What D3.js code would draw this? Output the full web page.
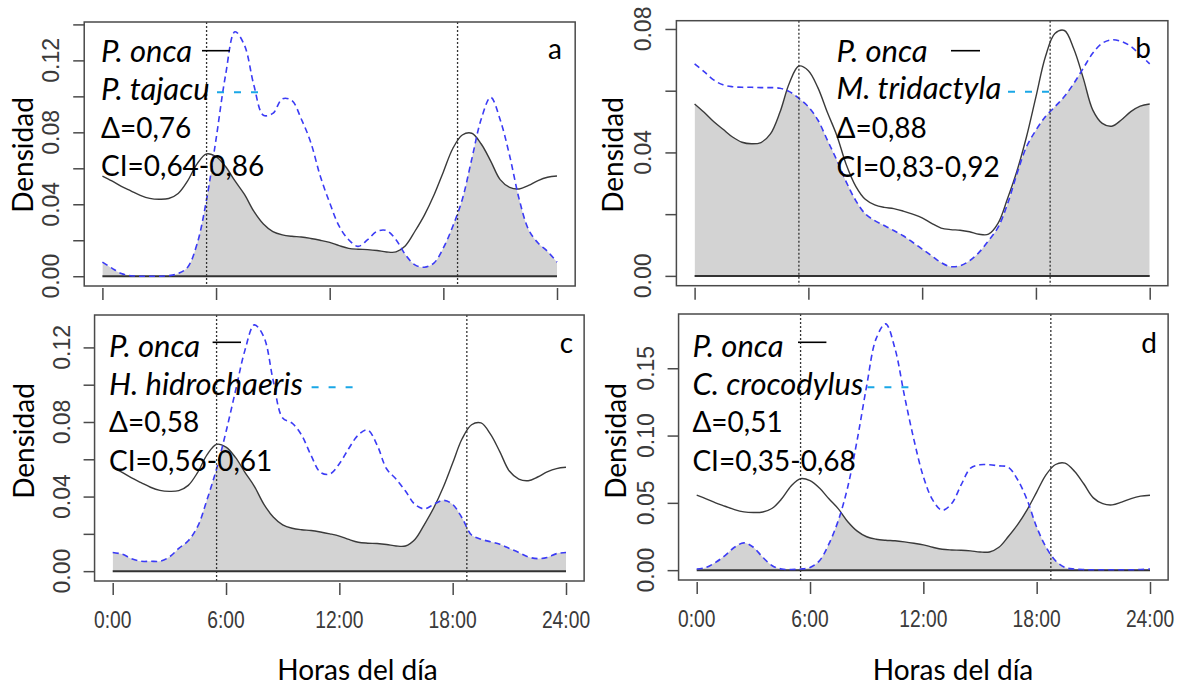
<!DOCTYPE html>
<html>
<head>
<meta charset="utf-8">
<script src="https://cdn.jsdelivr.net/npm/d3@7"></script>
<style>
    body { margin: 0; background: #ffffff; }
    svg text { font-family: Lato, "Open Sans", sans-serif; fill: #000; }
    .tick-label { font-family: "Liberation Sans", Arial, sans-serif; fill: #3a3a3a; }
</style>
</head>
<body>
<svg id="chart" width="1179" height="687"></svg>
<script>

// hours of the day (x values of every density curve)
var hours = [0,0.5,1,1.5,2,2.5,3,3.5,4,4.5,5,5.5,6,6.5,7,7.5,8,8.5,9,9.5,10,10.5,11,11.5,
    12,12.5,13,13.5,14,14.5,15,15.5,16,16.5,17,17.5,18,18.5,19,19.5,20,20.5,21,21.5,22,22.5,23,23.5,24];

// activity density, P. onca (same curve in all four panels)
var pOnca = [0.0557,0.0530,0.0500,0.0475,0.0450,0.0433,0.0428,0.0432,0.0460,0.0530,
    0.0625,0.0680,0.0665,0.0610,0.0530,0.0455,0.0360,0.0290,0.0248,0.0230,
    0.0222,0.0218,0.0210,0.0200,0.0188,0.0170,0.0155,0.0150,0.0148,0.0143,
    0.0135,0.0135,0.0170,0.0250,0.0340,0.0450,0.0580,0.0710,0.0785,0.0795,
    0.0735,0.0640,0.0537,0.0494,0.0485,0.0505,0.0532,0.0550,0.0557];

var pTajacu = [0.0078,0.0045,0.0015,0.0003,0.0000,0.0000,0.0000,0.0003,0.0015,0.0050,
    0.0180,0.0427,0.0762,0.1117,0.1359,0.1284,0.1060,0.0895,0.0905,0.0986,
    0.0977,0.0874,0.0744,0.0557,0.0408,0.0278,0.0203,0.0166,0.0203,0.0250,
    0.0254,0.0203,0.0119,0.0063,0.0050,0.0073,0.0157,0.0278,0.0427,0.0651,
    0.0874,0.0995,0.0870,0.0670,0.0430,0.0259,0.0185,0.0138,0.0078];

var mTridactyla = [0.0687,0.0662,0.0635,0.0619,0.0613,0.0611,0.0611,0.0610,0.0610,0.0608,
    0.0597,0.0575,0.0548,0.0505,0.0440,0.0375,0.0304,0.0244,0.0201,0.0179,
    0.0163,0.0147,0.0130,0.0109,0.0087,0.0065,0.0043,0.0030,0.0033,0.0049,
    0.0076,0.0114,0.0157,0.0233,0.0331,0.0418,0.0472,0.0516,0.0548,0.0581,
    0.0624,0.0673,0.0722,0.0754,0.0765,0.0760,0.0744,0.0716,0.0687];

var hHidrochaeris = [0.0100,0.0091,0.0067,0.0053,0.0053,0.0053,0.0076,0.0122,0.0163,0.0240,
    0.0385,0.0549,0.0748,0.0966,0.1184,0.1321,0.1257,0.1021,0.0821,0.0794,
    0.0730,0.0621,0.0530,0.0521,0.0576,0.0658,0.0730,0.0757,0.0676,0.0549,
    0.0494,0.0430,0.0358,0.0334,0.0358,0.0380,0.0358,0.0285,0.0194,0.0171,
    0.0158,0.0144,0.0122,0.0100,0.0076,0.0067,0.0073,0.0094,0.0100];

var cCrocodylus = [0.0008,0.0020,0.0058,0.0108,0.0170,0.0203,0.0170,0.0095,0.0033,0.0008,
    0.0005,0.0008,0.0020,0.0070,0.0195,0.0370,0.0620,0.0970,0.1370,0.1720,
    0.1830,0.1645,0.1295,0.0970,0.0695,0.0520,0.0445,0.0495,0.0633,0.0758,
    0.0783,0.0783,0.0775,0.0765,0.0670,0.0520,0.0320,0.0170,0.0070,0.0020,
    0.0008,0.0004,0.0003,0.0003,0.0003,0.0003,0.0003,0.0005,0.0008];

var panelLetters = ["a", "b", "c", "d"];
var otherSpecies = ["P. tajacu", "M. tridactyla", "H. hidrochaeris", "C. crocodylus"];
var deltaLabels = ["\u0394=0,76", "\u0394=0,88", "\u0394=0,58", "\u0394=0,51"];
var ciLabels = ["CI=0,64-0,86", "CI=0,83-0,92", "CI=0,56-0,61", "CI=0,35-0,68"];

// sunrise / sunset marks
var sunHours = [5.5, 18.75];

var xTickValues = [0, 6, 12, 18, 24];
var xTickLabels = ["0:00", "6:00", "12:00", "18:00", "24:00"];

var yTicksA = [0, 0.02, 0.04, 0.06, 0.08, 0.10, 0.12, 0.14];
var yLabelsA = [0, 0.04, 0.08, 0.12];
var yTicksB = [0, 0.02, 0.04, 0.06, 0.08];
var yLabelsB = [0, 0.04, 0.08];
var yTicksC = [0, 0.02, 0.04, 0.06, 0.08, 0.10, 0.12];
var yLabelsC = [0, 0.04, 0.08, 0.12];
var yTicksD = [0, 0.05, 0.10, 0.15];
var yLabelsD = [0, 0.05, 0.10, 0.15];

var svg = d3.select("#chart");

// layout of the four pasted panels
var panels = [
    {other: pTajacu, yTicks: yTicksA, yLabels: yLabelsA,
     x0: 102.4, x24: 557, top: 22, bottom: 286,
     yTitleX: 33, yTitleY: 155, legX: 101, legY: [62, 100, 138, 176],
     oncaLine: [202, 230, 50.7], dashLine: [217, 258, 92.3], letter: [555, 59], xLabels: false},
    {other: mTridactyla, yTicks: yTicksB, yLabels: yLabelsB,
     x0: 694.6, x24: 1149.7, top: 20.7, bottom: 285.7,
     yTitleX: 623, yTitleY: 155, legX: 836.5, legY: [62, 99, 138, 177],
     oncaLine: [951, 980, 50.7], dashLine: [1008, 1052, 91.7], letter: [1143, 58], xLabels: false},
    {other: hHidrochaeris, yTicks: yTicksC, yLabels: yLabelsC,
     x0: 112.7, x24: 566, top: 315, bottom: 581,
     yTitleX: 34, yTitleY: 441, legX: 109, legY: [356.7, 395, 432.3, 470.7],
     oncaLine: [212.6, 241, 342.3], dashLine: [311.6, 354, 387.3], letter: [566.4, 353], xLabels: true,
     xTitle: [357.5, 680]},
    {other: cCrocodylus, yTicks: yTicksD, yLabels: yLabelsD,
     x0: 696.7, x24: 1150, top: 314, bottom: 580,
     yTitleX: 626, yTitleY: 441, legX: 692.4, legY: [356.7, 395, 432.3, 470.7],
     oncaLine: [798, 826.4, 342.3], dashLine: [867.4, 910, 387.3], letter: [1149, 353], xLabels: true,
     xTitle: [953, 680]}
];

panels.forEach(function (p, i) {
    drawPanel(p, i);
});

function drawPanel(p, i) {
    var g = svg.append("g").attr("class", "panel-" + panelLetters[i]);

    var x = d3.scaleLinear().domain([0, 24]).range([p.x0, p.x24]);
    var maxY = d3.max(pOnca.concat(p.other));
    var y = d3.scaleLinear().domain([-0.04 * maxY, 1.04 * maxY]).range([p.bottom, p.top]);

    var onca = hours.map(function (h, k) { return {h: h, v: pOnca[k]}; });
    var other = hours.map(function (h, k) { return {h: h, v: p.other[k]}; });

    var curve = d3.curveCatmullRom.alpha(0.5);

    var area = d3.area()
        .x(function (d) { return x(d.h); })
        .y0(y(0))
        .y1(function (d) { return y(Math.max(0, d.v)); })
        .curve(curve);

    var line = d3.line()
        .x(function (d) { return x(d.h); })
        .y(function (d) { return y(d.v); })
        .curve(curve);

    // overlap = area under both curves
    var clipId = "clip-" + panelLetters[i];
    g.append("clipPath")
        .attr("id", clipId)
        .append("path")
        .attr("d", area(onca));

    g.append("path")
        .attr("d", area(other))
        .attr("fill", "#d3d3d3")
        .attr("clip-path", "url(#" + clipId + ")");

    // baseline
    g.append("line")
        .attr("x1", x(0)).attr("x2", x(24))
        .attr("y1", y(0)).attr("y2", y(0))
        .attr("stroke", "#333")
        .attr("stroke-width", 2);

    g.append("path")
        .attr("d", line(onca))
        .attr("fill", "none")
        .attr("stroke", "#3a3a3a")
        .attr("stroke-width", 1.4);

    g.append("path")
        .attr("d", line(other))
        .attr("fill", "none")
        .attr("stroke", "#3b3bf5")
        .attr("stroke-width", 1.6)
        .attr("stroke-dasharray", "6,4");

    // sunrise / sunset
    g.selectAll(".sun")
        .data(sunHours)
        .enter().append("line")
        .attr("class", "sun")
        .attr("x1", function (d) { return x(d); })
        .attr("x2", function (d) { return x(d); })
        .attr("y1", p.top)
        .attr("y2", p.bottom)
        .attr("stroke", "#333")
        .attr("stroke-width", 1.3)
        .attr("stroke-dasharray", "2,2");

    // box
    g.append("rect")
        .attr("x", x(-0.96))
        .attr("y", p.top)
        .attr("width", x(24.96) - x(-0.96))
        .attr("height", p.bottom - p.top)
        .attr("fill", "none")
        .attr("stroke", "#4a4a4a")
        .attr("stroke-width", 1.5);

    // x axis ticks
    var xAxis = g.append("g")
        .attr("transform", "translate(0," + (p.bottom + 2) + ")")
        .call(d3.axisBottom(x).tickValues(xTickValues).tickSize(12).tickFormat(""));
    xAxis.select(".domain").remove();
    xAxis.selectAll(".tick line").attr("stroke", "#4a4a4a").attr("stroke-width", 1.5);

    if (p.xLabels) {
        g.selectAll(".xlab")
            .data(xTickValues)
            .enter().append("text")
            .attr("class", "tick-label")
            .attr("text-anchor", "middle")
            .attr("font-size", 23.5)
            .attr("transform", function (d) {
                return "translate(" + x(d) + "," + (p.bottom + 47) + ") scale(0.82,1)";
            })
            .text(function (d, k) { return xTickLabels[k]; });

        g.append("text")
            .attr("x", p.xTitle[0])
            .attr("y", p.xTitle[1])
            .attr("text-anchor", "middle")
            .attr("font-size", 28)
            .text("Horas del día");
    }

    // y axis ticks
    var left = x(-0.96);
    var yAxis = g.append("g")
        .attr("transform", "translate(" + left + ",0)")
        .call(d3.axisLeft(y).tickValues(p.yTicks).tickSize(11).tickFormat(""));
    yAxis.select(".domain").remove();
    yAxis.selectAll(".tick line").attr("stroke", "#4a4a4a").attr("stroke-width", 1.5);

    g.selectAll(".ylab")
        .data(p.yLabels)
        .enter().append("text")
        .attr("class", "tick-label")
        .attr("text-anchor", "middle")
        .attr("font-size", 23)
        .attr("transform", function (d) {
            return "translate(" + (left - 25) + "," + y(d) + ") rotate(-90)";
        })
        .text(function (d) { return d3.format(".2f")(d); });

    g.append("text")
        .attr("text-anchor", "middle")
        .attr("font-size", 28)
        .attr("transform", "translate(" + p.yTitleX + "," + p.yTitleY + ") rotate(-90)")
        .text("Densidad");

    // legend
    g.append("text")
        .attr("x", p.legX).attr("y", p.legY[0])
        .attr("font-size", 31)
        .attr("font-style", "italic")
        .text("P. onca");
    g.append("text")
        .attr("x", p.legX).attr("y", p.legY[1])
        .attr("font-size", 31)
        .attr("font-style", "italic")
        .text(otherSpecies[i]);
    g.append("text")
        .attr("x", p.legX).attr("y", p.legY[2])
        .attr("font-size", 28)
        .text(deltaLabels[i]);
    g.append("text")
        .attr("x", p.legX).attr("y", p.legY[3])
        .attr("font-size", 28)
        .text(ciLabels[i]);

    g.append("line")
        .attr("x1", p.oncaLine[0]).attr("x2", p.oncaLine[1])
        .attr("y1", p.oncaLine[2]).attr("y2", p.oncaLine[2])
        .attr("stroke", "#000")
        .attr("stroke-width", 1.6);

    g.append("line")
        .attr("x1", p.dashLine[0]).attr("x2", p.dashLine[1])
        .attr("y1", p.dashLine[2]).attr("y2", p.dashLine[2])
        .attr("stroke", "#1aa7e6")
        .attr("stroke-width", 2)
        .attr("stroke-dasharray", "7,10");

    g.append("text")
        .attr("x", p.letter[0]).attr("y", p.letter[1])
        .attr("text-anchor", "middle")
        .attr("font-size", 28)
        .text(panelLetters[i]);
}
</script>
</body>
</html>
